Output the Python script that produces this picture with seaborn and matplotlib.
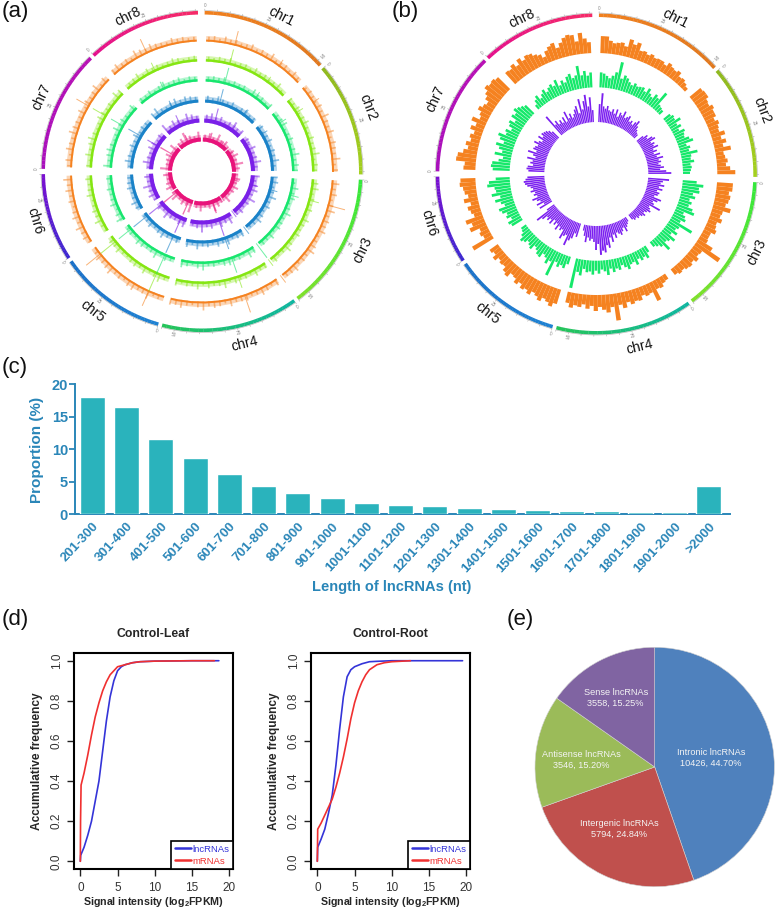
import numpy as np
import pandas as pd
import matplotlib
matplotlib.use('Agg')
import matplotlib.pyplot as plt
import seaborn as sns

W, H = 778, 911

# === chromosome layout (start / end angle clockwise from top, degrees) ===
chr_names = ['chr1', 'chr2', 'chr3', 'chr4', 'chr5', 'chr6', 'chr7', 'chr8']
chr_start = [1.0, 49.5, 93.0, 144.5, 196.0, 237.0, 271.0, 317.0]
chr_end = [48.0, 91.0, 143.0, 194.5, 235.5, 269.0, 315.5, 358.5]
chr_colors = [('#f0801f', '#e0781e'), ('#8fb81e', '#a4d01f'), ('#35e83c', '#7ee02a'),
              ('#0fb6a0', '#25c45a'), ('#1f82d2', '#1a70c8'), ('#3c28d0', '#7a10d0'),
              ('#a810bc', '#b810b4'), ('#e4108c', '#f52a68')]
chr_mb = [52, 46, 55, 55, 44, 35, 49, 46]
chr_lab_deg = [27, 69, 116, 166, 218, 253.5, 295, 334.5]
chr_lab_r = [174, 178, 179, 178, 177, 174, 177, 172]

# === panel (a) tracks ===
a_track_r = [130, 110, 90, 69, 49, 30]
a_track_base = [2, 2.5, 2.5, 3, 4, 4]
a_track_fuzz = [5.5, 5.5, 5.5, 6, 7, 6.5]
a_track_gap = [1.6, 2.0, 2.6, 3.0, 3.0, 1.0]
a_track_color = ['#f58220', '#85e612', '#18e66e', '#1a82c8', '#7a20e8', '#e8137a']
spike_deg = [14.5, 36, 58, 105, 143, 161, 204, 231, 300, 335]
spike_h = [[15, 8, 8, 18, 9, 19, 17, 19, 15, 16],
           [16, 7, 9, 11, 8, 13, 21, 20, 16, 10],
           [17, 8, 9, 10, 18, 17, 22, 17, 15, 9],
           [16, 7, 8, 9, 9, 13, 20, 19, 16, 9],
           [16, 8, 7, 9, 8, 19, 18, 19, 14, 13],
           [10, 7, 6, 8, 7, 14, 17, 19, 18, 10]]
a_orange = [5, 6, 4, 7, 5, 6, 4, 5, 7, 4, 6, 5, 8, 4, 5, 6, 4, 7, 5, 4, 6, 5, 4, 7, 5, 9, 6, 5, 8, 4,
            7, 6, 5, 9, 4, 6, 8, 5, 7, 4, 6, 9, 5, 7, 6, 8, 4, 5, 7, 9, 5, 6, 4, 8, 6, 5, 7, 4, 6, 8,
            5, 4, 7, 6, 5, 8, 4, 6, 7, 5, 9, 6, 4, 5, 8, 6, 7, 5, 4, 9, 6, 5, 8, 7, 4, 6, 5, 9, 7, 6,
            8, 5, 4, 7, 6, 9, 5, 8, 6, 4, 7, 5, 8, 6, 9, 5, 7, 4, 8, 6, 5, 9, 7, 6, 5, 8, 4, 7, 5, 6,
            9, 4, 7, 6, 8, 5, 6, 4, 9, 7, 5, 8, 6, 5, 4, 7, 5, 6, 4, 5]
a_lime = [5, 4, 6, 5, 7, 4, 5, 6, 4, 7, 5, 6, 4, 5, 8, 4, 6, 5, 7, 4, 6, 8, 5, 4, 7, 5, 6, 9, 4, 6,
          5, 7, 8, 4, 6, 5, 7, 4, 8, 6, 5, 7, 4, 6, 9, 5, 4, 7, 6, 5, 8, 4, 6, 5, 7, 4, 9, 6, 5, 7,
          4, 8, 5, 6, 4, 7, 5, 9, 6, 4, 8, 5, 7, 6, 4, 5, 8, 6, 7, 4, 5, 9, 6, 7, 5, 4, 8, 6, 5, 7,
          6, 4, 8, 5, 7, 9, 6, 4, 5, 8, 7, 5, 6, 4, 9, 7, 5, 6, 8, 4, 7, 5, 6, 4, 5, 7, 6, 4, 5, 6]
a_spring = [5, 6, 5, 7, 4, 6, 5, 6, 4, 8, 5, 6, 4, 7, 5, 6, 8, 4, 5, 7, 4, 6, 9, 5, 7, 6, 4, 8, 5, 7,
            4, 6, 9, 5, 6, 7, 4, 8, 5, 6, 7, 9, 4, 6, 5, 8, 7, 4, 6, 5, 9, 7, 4, 6, 8, 5, 7, 4, 9, 6,
            5, 7, 8, 4, 6, 5, 9, 7, 4, 8, 6, 5, 7, 4, 6, 9, 5, 7, 8, 6, 4, 5, 9, 6, 7, 5, 4, 8, 6, 5,
            7, 4, 6, 8, 5, 6, 7, 4, 6, 5]
a_blue = [7, 5, 8, 6, 5, 7, 4, 6, 8, 5, 6, 7, 4, 6, 8, 5, 7, 6, 9, 5, 7, 8, 5, 6, 10, 6, 8, 5, 7, 9,
          6, 5, 8, 7, 5, 9, 6, 8, 5, 7, 6, 9, 5, 8, 7, 5, 6, 9, 7, 5, 8, 6, 5, 7, 9, 6, 5, 8, 7, 6,
          5, 9, 7, 5, 8, 6, 9, 5, 7, 6, 8, 10, 6, 5, 7, 9, 6, 8, 7, 6]
a_purple = [8, 10, 7, 9, 6, 8, 11, 7, 9, 8, 6, 10, 7, 8, 11, 7, 9, 6, 8, 10, 7, 12, 8, 6, 9, 7, 11, 8, 10, 6,
            9, 7, 12, 8, 6, 10, 9, 7, 8, 11, 6, 9, 7, 10, 8, 12, 7, 9, 6, 11, 8, 7, 10, 9, 6, 8, 12, 7, 10, 8,
            6, 11, 9, 7]
a_pink = [7, 9, 6, 11, 7, 9, 6, 8, 10, 7, 12, 8, 6, 9, 7, 10, 8, 6, 11, 7, 9, 12, 8, 6, 10, 7, 13, 8, 9, 6,
          11, 7, 10, 8, 6, 9, 12, 7, 8, 10, 6, 11, 7, 9, 13, 8, 6, 10]
a_tracks = [a_orange, a_lime, a_spring, a_blue, a_purple, a_pink]

# === panel (b) tracks, one list per chromosome ===
b_track_r = [121, 86.7, 52]
b_track_color = ['#f58220', '#15e86a', '#7b1ff0']
b_track_width = [1.0, 0.85, 0.8]
b_orange = [
    [17, 17, 13, 11, 12, 13, 10, 18, 14, 17, 10, 11, 9, 11, 9, 10, 10, 8, 12, 10, 9, 11, 7, 8, 6, 4],
    [14, 15, 15, 12, 11, 14, 12, 12, 9, 12, 10, 9, 14, 9, 13, 9, 16, 8, 9, 11, 9, 13, 18],
    [16, 16, 13, 15, 14, 12, 18, 11, 10, 13, 9, 10, 12, 8, 8, 9, 17, 29, 10, 9, 12, 9, 11, 10, 8, 9, 7],
    [6, 7, 10, 9, 20, 10, 11, 9, 13, 12, 14, 11, 16, 12, 27, 13, 18, 15, 12, 16, 11, 14, 10, 13, 12, 15, 11],
    [15, 19, 16, 14, 18, 15, 13, 17, 14, 16, 12, 15, 11, 10, 15, 13, 9, 10, 8, 12, 8, 10],
    [23, 8, 10, 8, 17, 13, 18, 8, 10, 12, 8, 14, 9, 12, 13, 16, 15],
    [12, 11, 20, 19, 14, 10, 13, 9, 11, 8, 13, 9, 15, 8, 10, 14, 11, 9, 13, 16, 20, 18, 19, 17],
    [15, 14, 17, 13, 18, 14, 17, 16, 13, 11, 7, 12, 15, 17, 11, 15, 19, 21, 20, 13, 21, 15, 11]]
b_green = [
    [15, 14, 12, 10, 13, 17, 28, 12, 16, 14, 11, 9, 12, 10, 11, 12, 9, 14, 10, 8, 13, 11, 20, 7, 6, 5],
    [8, 10, 9, 14, 8, 11, 7, 12, 10, 9, 13, 16, 8, 11, 9, 17, 10, 9, 12, 8, 9, 8, 7],
    [14, 21, 17, 18, 12, 15, 10, 13, 11, 16, 19, 9, 12, 14, 10, 25, 12, 10, 14, 9, 16, 12, 10, 18, 11, 8, 6],
    [7, 12, 9, 11, 8, 13, 9, 10, 14, 11, 8, 12, 10, 13, 9, 15, 11, 9, 13, 10, 14, 11, 12, 9, 16, 13, 30],
    [8, 13, 11, 14, 10, 26, 12, 16, 11, 9, 14, 13, 10, 8, 13, 11, 9, 12, 14, 10, 7, 6],
    [12, 14, 9, 13, 11, 15, 17, 10, 13, 18, 12, 20, 15, 16, 23, 21, 14],
    [17, 19, 18, 12, 8, 17, 10, 14, 18, 11, 16, 19, 12, 14, 9, 13, 15, 10, 16, 14, 18, 16, 14, 12],
    [5, 9, 12, 7, 10, 13, 9, 12, 14, 11, 16, 9, 13, 10, 15, 17, 12, 14, 23, 13, 17, 12, 15]]
b_purple = [
    [18, 29, 16, 14, 17, 13, 12, 15, 11, 16, 9, 14, 12, 17, 11, 13, 15, 10, 12, 9, 13, 16, 11, 8, 6, 5],
    [8, 12, 10, 15, 17, 11, 14, 12, 16, 10, 13, 9, 15, 11, 17, 12, 14, 11, 13, 16, 12, 18, 23],
    [21, 15, 13, 17, 12, 16, 11, 14, 13, 10, 18, 15, 11, 13, 21, 10, 12, 14, 11, 9, 12, 10, 8, 9, 7, 8, 6],
    [5, 7, 9, 13, 8, 11, 14, 12, 10, 15, 11, 18, 13, 23, 20, 27, 25, 29, 18, 24, 16, 13, 15, 12, 17, 11, 6],
    [14, 11, 17, 20, 26, 16, 18, 22, 13, 15, 12, 17, 11, 14, 10, 16, 12, 15, 13, 18, 23, 9],
    [14, 8, 15, 10, 13, 17, 11, 14, 12, 16, 13, 15, 18, 20, 21, 19, 17],
    [16, 18, 17, 12, 15, 13, 19, 11, 14, 20, 12, 16, 15, 13, 18, 14, 11, 17, 13, 16, 15, 14, 12, 9],
    [24, 12, 15, 10, 13, 9, 14, 8, 18, 10, 14, 9, 12, 16, 19, 11, 25, 14, 22, 28, 16, 25, 12]]
b_tracks = [b_orange, b_green, b_purple]

# === panel (c) ===
len_bins = ['201-300', '301-400', '401-500', '501-600', '601-700', '701-800', '801-900', '901-1000',
            '1001-1100', '1101-1200', '1201-1300', '1301-1400', '1401-1500', '1501-1600', '1601-1700',
            '1701-1800', '1801-1900', '1901-2000', '>2000']
len_prop = [18.05, 16.4, 11.5, 8.7, 6.2, 4.3, 3.2, 2.45, 1.7, 1.5, 1.3, 0.95, 0.8, 0.7, 0.5, 0.45, 0.35, 0.3, 4.4]

# === panel (d) ===
leaf_lnc_x = [0, 0.05, 0.5, 1, 1.5, 2, 2.5, 3, 3.5, 4, 4.5, 5, 5.5, 6, 7, 8, 10, 15, 18.6]
leaf_lnc_y = [0, 0.03, 0.07, 0.13, 0.2, 0.3, 0.4, 0.55, 0.7, 0.82, 0.9, 0.95, 0.97, 0.98, 0.99, 0.995, 0.998, 1, 1]
leaf_m_x = [0, 0.03, 0.1, 0.5, 1, 1.5, 2, 2.5, 3, 3.5, 4, 4.5, 5, 6, 7, 8, 10, 15, 18]
leaf_m_y = [0, 0.2, 0.38, 0.44, 0.53, 0.63, 0.72, 0.79, 0.85, 0.895, 0.93, 0.95, 0.97, 0.98, 0.99, 0.995, 0.998, 1, 1]
root_lnc_x = [0, 0.05, 0.5, 1, 1.5, 2, 2.5, 3, 3.5, 4, 4.5, 5, 6, 7, 8, 10, 15, 19.5]
root_lnc_y = [0, 0.07, 0.11, 0.16, 0.24, 0.33, 0.48, 0.66, 0.82, 0.92, 0.955, 0.97, 0.985, 0.995, 0.997, 1, 1, 1]
root_m_x = [0, 0.05, 0.5, 1, 1.5, 2, 2.5, 3, 3.5, 4, 4.5, 5, 5.5, 6, 6.5, 7, 8, 9, 10, 12.5]
root_m_y = [0, 0.16, 0.19, 0.23, 0.27, 0.31, 0.37, 0.44, 0.52, 0.61, 0.71, 0.79, 0.85, 0.895, 0.93, 0.955, 0.98, 0.99, 0.995, 1]

# === panel (e) ===
pie_names = ['Intronic lncRNAs', 'Intergenic lncRNAs', 'Antisense lncRNAs', 'Sense lncRNAs']
pie_counts = [10426, 5794, 3546, 3558]
pie_pct = ['44.70%', '24.84%', '15.20%', '15.25%']
pie_colors = ['#4f81bd', '#c0504d', '#9bbb59', '#8064a2']

sns.set_style('white')
plt.rcParams['font.family'] = ['Liberation Sans', 'DejaVu Sans']
plt.rcParams['mathtext.fontset'] = 'custom'
plt.rcParams['mathtext.rm'] = 'Liberation Sans'
plt.rcParams['mathtext.bf'] = 'Liberation Sans:bold'

fig = plt.figure(figsize=(W / 100, H / 100), dpi=100, facecolor='white')


def px_axes(left, top, right, bottom, **kw):
    return fig.add_axes([left / W, 1 - bottom / H, (right - left) / W, (bottom - top) / H], **kw)


def polar_panel(cx, cy, rmax=174):
    ax = px_axes(cx - rmax, cy - rmax, cx + rmax, cy + rmax, polar=True)
    ax.set_theta_zero_location('N')
    ax.set_theta_direction(-1)
    ax.set_ylim(0, rmax)
    ax.axis('off')
    return ax


def draw_ideogram(ax):
    # gradient ring, thin grey scale line, ticks and Mb labels
    for i, name in enumerate(chr_names):
        s, e = chr_start[i], chr_end[i]
        edges = np.linspace(s, e, 31)
        pal = sns.blend_palette(chr_colors[i], 30)
        ax.bar(np.radians((edges[:-1] + edges[1:]) / 2), 3.6, width=np.radians((e - s) / 30 + 0.1),
               bottom=157, color=pal, linewidth=0)
        th = np.radians(np.linspace(s, e, 60))
        ax.plot(th, np.full(60, 161), color='#b0b0b0', lw=0.4)
        deg_per_mb = (e - s) / chr_mb[i]
        for mb in range(0, chr_mb[i] + 1, 5):
            t = np.radians(s + mb * deg_per_mb)
            ax.plot([t, t], [161, 162.5], color='#a8a8a8', lw=0.4)
            if mb % 25 == 0:
                d = s + mb * deg_per_mb
                ax.text(t, 166, str(mb), fontsize=3.4, color='#888888', ha='center', va='center',
                        rotation=-d if (d < 90 or d > 270) else 180 - d, rotation_mode='anchor')
        mid = chr_lab_deg[i]
        rot = -mid if (mid < 90 or mid > 270) else 180 - mid
        ax.text(np.radians(mid), chr_lab_r[i], name, fontsize=10, color='#111111', ha='center', va='center',
                rotation=rot, rotation_mode='anchor')


# === (a) ===
ax_a = polar_panel(202, 171.5)
draw_ideogram(ax_a)
for r, base, fuzz, gap, color, hairs, sp in zip(a_track_r, a_track_base, a_track_fuzz, a_track_gap,
                                                a_track_color, a_tracks, spike_h):
    spans = np.array(chr_end) - np.array(chr_start) - gap
    cum = np.concatenate([[0], np.cumsum(spans)])
    pos = (np.arange(len(hairs)) + 0.5) / len(hairs) * cum[-1]
    idx = np.searchsorted(cum, pos, side='right') - 1
    deg = np.array(chr_start)[idx] + gap / 2 + pos - cum[idx]
    ax_a.bar(np.radians(deg), hairs, width=1.6 / r, bottom=r, color=color, alpha=0.5, linewidth=0)
    for s, e in zip(chr_start, chr_end):
        mid = (s + e) / 2
        ax_a.bar(np.radians(mid), fuzz, width=np.radians(e - s - gap), bottom=r, color=color, alpha=0.32, linewidth=0)
        ax_a.bar(np.radians(mid), base, width=np.radians(e - s - gap), bottom=r, color=color, linewidth=0)
    ax_a.bar(np.radians(spike_deg), sp, width=0.9 / r, bottom=r, color=color, alpha=0.6, linewidth=0)

# === (b) ===
ax_b = polar_panel(596.3, 174)
draw_ideogram(ax_b)
for r, color, frac, track in zip(b_track_r, b_track_color, b_track_width, b_tracks):
    for i, vals in enumerate(track):
        s, e = chr_start[i] + 0.9, chr_end[i] - 0.9
        step = (e - s) / len(vals)
        th = s + step * (np.arange(len(vals)) + 0.5)
        ax_b.bar(np.radians(th), vals, width=np.radians(step * frac), bottom=r, color=color, linewidth=0)

# === (c) ===
teal = '#2ab3bc'
blue_txt = '#2a86b8'
ax_c = px_axes(75, 384, 730, 514.3)
df_len = pd.DataFrame({'bin': len_bins, 'prop': len_prop})
sns.barplot(data=df_len, x='bin', y='prop', color=teal, saturation=1, width=0.73, ax=ax_c)
for p in ax_c.patches:
    p.set_zorder(3)
ax_c.set(xlabel='', ylabel='')
ax_c.set_xlim(-0.51, 18.62)
ax_c.set_ylim(0, 20)
ax_c.set_yticks([0, 5, 10, 15, 20])
sns.despine(ax=ax_c)
for side in ['left', 'bottom']:
    ax_c.spines[side].set_color(blue_txt)
    ax_c.spines[side].set_linewidth(1.4)
ax_c.tick_params(axis='y', left=True, length=4, width=1.3, color=blue_txt, labelcolor=blue_txt, labelsize=10.5, pad=1)
ax_c.tick_params(axis='x', bottom=False, labelcolor=blue_txt, labelsize=9.5, pad=1)
for lab in ax_c.get_yticklabels():
    lab.set_fontweight('bold')
for lab in ax_c.get_xticklabels():
    lab.set_fontweight('bold')
    lab.set_rotation(47)
    lab.set_ha('right')
    lab.set_rotation_mode('anchor')
fig.text(37 / W, 1 - 450 / H, 'Proportion (%)', rotation=90, ha='center', va='center', fontsize=11,
         fontweight='bold', color=blue_txt)
fig.text(392 / W, 1 - 587 / H, 'Length of lncRNAs (nt)', ha='center', va='center', fontsize=10.5,
         fontweight='bold', color=blue_txt)

# === (d) ===
curves = [
    ('Control-Leaf', 74, 233, leaf_lnc_x, leaf_lnc_y, leaf_m_x, leaf_m_y),
    ('Control-Root', 311, 470, root_lnc_x, root_lnc_y, root_m_x, root_m_y),
]
for title, left, right, lx, ly, mx, my in curves:
    ax = px_axes(left, 652.7, right, 869.3)
    df = pd.concat([pd.DataFrame({'x': lx, 'y': ly, 'kind': 'lncRNAs'}),
                    pd.DataFrame({'x': mx, 'y': my, 'kind': 'mRNAs'})])
    sns.lineplot(data=df, x='x', y='y', hue='kind', palette={'lncRNAs': '#3434d8', 'mRNAs': '#f03030'},
                 estimator=None, sort=False, lw=1.2, ax=ax)
    ax.set_xlim(-0.85, 20.5)
    ax.set_ylim(-0.04, 1.04)
    ax.set_xticks([0, 5, 10, 15, 20])
    ax.set_yticks([0, 0.2, 0.4, 0.6, 0.8, 1.0])
    ax.tick_params(axis='x', bottom=True, length=5, width=1, color='#222222', labelcolor='#333333',
                   labelsize=8.5, pad=4.5)
    ax.tick_params(axis='y', left=True, length=5, width=1, color='#222222', labelcolor='#333333',
                   labelsize=8.5, pad=3)
    for lab in ax.get_yticklabels():
        lab.set_rotation(90)
        lab.set_va('center')
    for spine in ax.spines.values():
        spine.set_visible(True)
        spine.set_color('black')
        spine.set_linewidth(1.5)
    ax.set_xlabel('Signal intensity (log$_{\\mathbf{2}}$FPKM)', fontsize=7.7, fontweight='bold', labelpad=0.5)
    ax.set_ylabel('Accumulative frequency', fontsize=8.6, fontweight='bold', labelpad=6)
    ax.set_title(title, fontsize=8.8, fontweight='bold', pad=11)
    handles, labels = ax.get_legend_handles_labels()
    for h in handles:
        h.set_linewidth(1.8)
    leg = ax.legend(handles, labels, loc='lower right', borderaxespad=0, frameon=True, fancybox=False,
                    edgecolor='black', framealpha=1, fontsize=6.8, labelcolor='linecolor', handlelength=1.7,
                    handletextpad=0.15, labelspacing=0.3, borderpad=0.4, title=None)
    leg.get_frame().set_linewidth(1.2)

# === (e) ===
ax_e = px_axes(654.7 - 122, 767 - 122, 654.7 + 122, 767 + 122)
ax_e.pie(pie_counts, startangle=90, counterclock=False, colors=pie_colors, radius=119.7 / 122,
         wedgeprops={'edgecolor': '#d0d0d0', 'linewidth': 0.4})
ax_e.set_xlim(-1, 1)
ax_e.set_ylim(-1, 1)
pie_lab_x = [0.46, -0.29, -0.60, -0.32]
pie_lab_y = [0.076, -0.51, 0.055, 0.57]
for n, c, p, x, y in zip(pie_names, pie_counts, pie_pct, pie_lab_x, pie_lab_y):
    ax_e.text(x, y, f'{n}\n{c}, {p}', color='#f4f4f4', ha='center', va='center', fontsize=6.6, linespacing=1.25)

# === panel letters ===
panel_letters = [('(a)', 2, 11), ('(b)', 392, 11), ('(c)', 2, 367), ('(d)', 2, 619), ('(e)', 507, 619)]
for s, x, y in panel_letters:
    fig.text(x / W, 1 - y / H, s, fontsize=16, ha='left', va='center', color='#111111')

fig.savefig('out.png', dpi=100, facecolor='white')
